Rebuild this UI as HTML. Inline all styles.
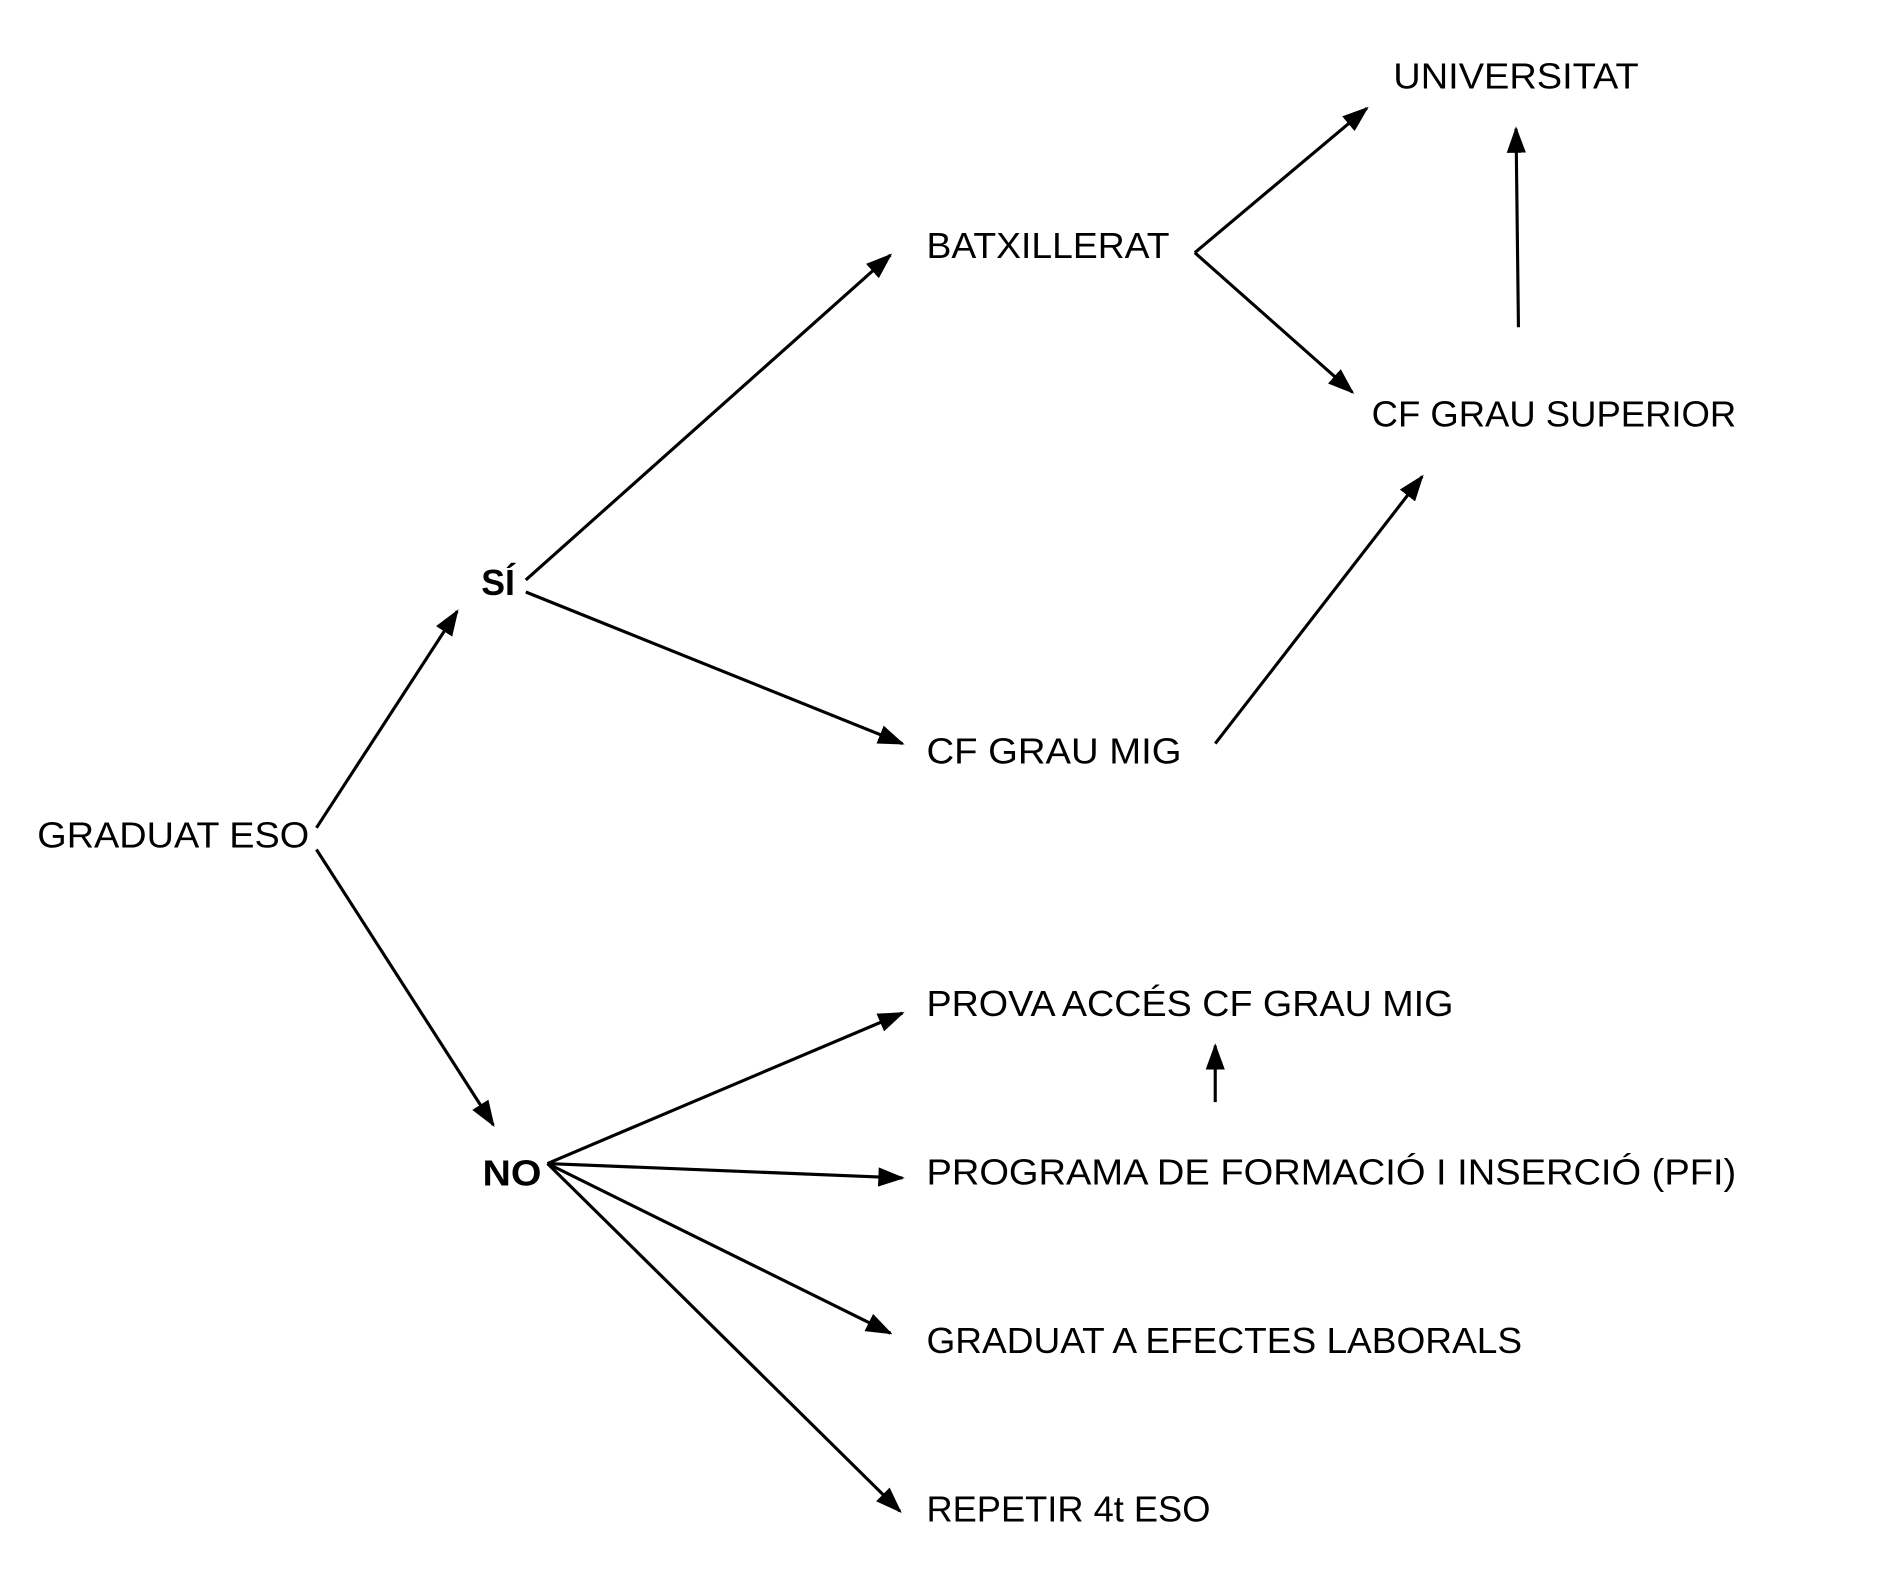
<!DOCTYPE html>
<html><head><meta charset="utf-8"><style>
html,body{margin:0;padding:0;background:#fff;}
svg{display:block;}
text{font-family:"Liberation Sans",sans-serif;font-size:30px;fill:#000;dominant-baseline:central;}
</style></head><body>
<svg width="1877" height="1595" viewBox="0 0 1560 1325.6" preserveAspectRatio="none" xmlns="http://www.w3.org/2000/svg">
<defs>
<marker id="a" markerWidth="22" markerHeight="16" refX="20" refY="8" orient="auto" markerUnits="userSpaceOnUse">
<path d="M0,0 L22,8 L0,16 Z" fill="#000"/>
</marker>
</defs>
<g stroke="#000" stroke-width="2.6" fill="none" marker-end="url(#a)">
<line x1="263" y1="688" x2="380" y2="508"/>
<line x1="263" y1="706" x2="410" y2="935"/>
<line x1="437" y1="482" x2="740" y2="212"/>
<line x1="437" y1="492" x2="750" y2="618"/>
<line x1="993" y1="210" x2="1136" y2="90"/>
<line x1="993" y1="210" x2="1124" y2="326"/>
<line x1="1262" y1="272" x2="1260" y2="107"/>
<line x1="1010" y1="618" x2="1182" y2="396"/>
<line x1="455" y1="967" x2="750" y2="842"/>
<line x1="455" y1="967" x2="750" y2="979"/>
<line x1="455" y1="967" x2="740" y2="1108"/>
<line x1="455" y1="967" x2="748" y2="1256"/>
<line x1="1010" y1="916" x2="1010" y2="869"/>
</g>
<text x="1158" y="63" textLength="204" lengthAdjust="spacingAndGlyphs">UNIVERSITAT</text>
<text x="770" y="204" textLength="202" lengthAdjust="spacingAndGlyphs">BATXILLERAT</text>
<text x="1140" y="344" textLength="303" lengthAdjust="spacingAndGlyphs">CF GRAU SUPERIOR</text>
<text x="400" y="484" textLength="28" lengthAdjust="spacingAndGlyphs" font-weight="bold">SÍ</text>
<text x="770" y="624" textLength="212" lengthAdjust="spacingAndGlyphs">CF GRAU MIG</text>
<text x="31" y="694" textLength="226" lengthAdjust="spacingAndGlyphs">GRADUAT ESO</text>
<text x="770" y="834" textLength="438" lengthAdjust="spacingAndGlyphs">PROVA ACCÉS CF GRAU MIG</text>
<text x="770" y="974" textLength="673" lengthAdjust="spacingAndGlyphs">PROGRAMA DE FORMACIÓ I INSERCIÓ (PFI)</text>
<text x="401" y="975" textLength="49" lengthAdjust="spacingAndGlyphs" font-weight="bold">NO</text>
<text x="770" y="1114" textLength="495" lengthAdjust="spacingAndGlyphs">GRADUAT A EFECTES LABORALS</text>
<text x="770" y="1254" textLength="236" lengthAdjust="spacingAndGlyphs">REPETIR 4t ESO</text>
</svg>
</body></html>
